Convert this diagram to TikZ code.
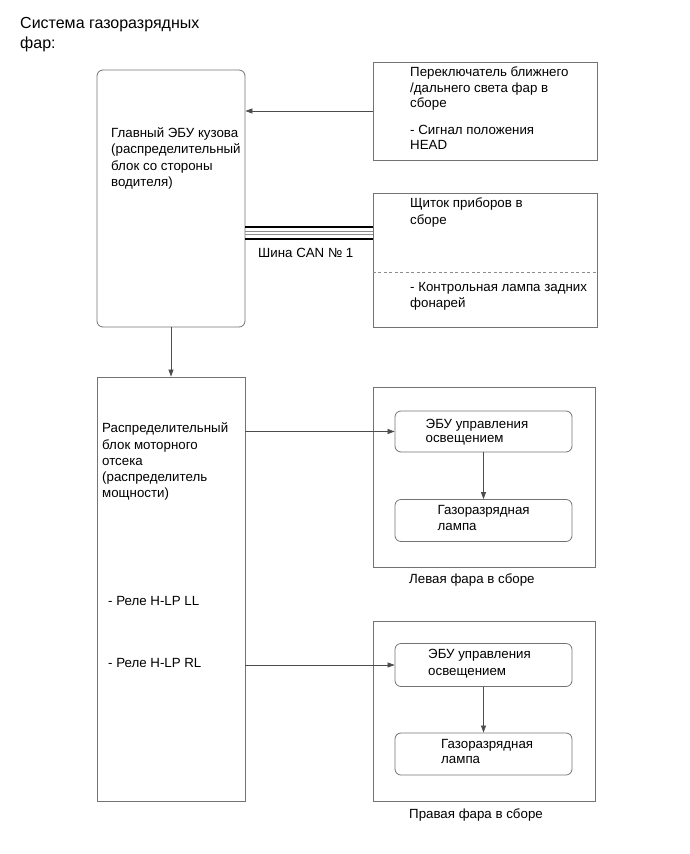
\documentclass[tikz,border=0pt]{standalone}
\usepackage{fontspec}
\setmainfont{Liberation Sans}
\usetikzlibrary{arrows.meta}
\newcommand{\fl}{\rule{0pt}{12pt}}
\begin{document}
\begin{tikzpicture}[x=1pt,y=-1pt,
  box/.style={draw=black!55,line width=0.8pt,inner sep=0pt},
  rbox/.style={box,rounded corners=6pt},
  txt/.style={anchor=north west,inner sep=0pt,align=left,font=\fontsize{13.3}{16.3}\selectfont},
  arr/.style={draw=black!70,line width=0.7pt,-{Triangle[length=7pt,width=5pt]}},
  canthick/.style={draw=black,line width=2.6pt},
  canthin/.style={draw=black!45,line width=0.6pt}]
\useasboundingbox (0,0) rectangle (690,854);
% title (first baseline 28.5)
\node[txt,font=\fontsize{16}{20}\selectfont] (title) at (20,16.5) {\fl Система газоразрядных\\фар:};
% main body ECU
\node[rbox,minimum width=148pt,minimum height=257pt] (A) at (171,198.5) {};
\node[txt] (Atxt) at (111,125.3) {\fl Главный ЭБУ кузова\\(распределительный\\блок со стороны\\водителя)};
% headlight switch
\node[box,minimum width=224pt,minimum height=98pt] (B) at (485,111) {};
\node[txt,font=\fontsize{13.3}{15.3}\selectfont] (Btxt1) at (410,64.7) {\fl Переключатель ближнего\\/дальнего света фар в\\сборе};
\node[txt,font=\fontsize{13.3}{15}\selectfont] (Btxt2) at (410,122.5) {\fl - Сигнал положения\\HEAD};
% combination meter
\node[box,minimum width=224pt,minimum height=134pt] (C) at (485,260) {};
\node[txt] (Ctxt1) at (410,195.5) {\fl Щиток приборов в\\сборе};
\node[txt,font=\fontsize{13.3}{15.3}\selectfont] (Ctxt2) at (410,279.5) {\fl - Контрольная лампа задних\\фонарей};
\draw[black!45,line width=0.6pt,dash pattern=on 3pt off 2.5pt] (C.west |- 0,272) -- (C.east |- 0,272);
% engine room relay block
\node[box,minimum width=148pt,minimum height=424pt] (D) at (171,589) {};
\node[txt] (Dtxt) at (102,420.5) {\fl Распределительный\\блок моторного\\отсека\\(распределитель\\мощности)};
\node[txt] (Dll) at (108,593) {\fl - Реле H-LP LL};
\node[txt] (Drl) at (108,655.5) {\fl - Реле H-LP RL};
% left headlight
\node[box,minimum width=222pt,minimum height=180pt] (L) at (484,477) {};
\node[rbox,minimum width=177pt,minimum height=41pt] (EL) at (483.5,431.5) {};
\node[txt,font=\fontsize{13.3}{14.5}\selectfont] (ELtxt) at (425.5,416) {\fl ЭБУ управления\\освещением};
\node[rbox,minimum width=177pt,minimum height=42pt] (LL) at (483.5,520.5) {};
\node[txt,font=\fontsize{13.3}{15.5}\selectfont] (LLtxt) at (437.5,502.5) {\fl Газоразрядная\\лампа};
\node[txt] (Llab) at (409,571) {\fl Левая фара в сборе};
% right headlight
\node[box,minimum width=222pt,minimum height=180pt] (R) at (484,711) {};
\node[rbox,minimum width=177pt,minimum height=43pt] (ER) at (483.5,665) {};
\node[txt,font=\fontsize{13.3}{16.5}\selectfont] (ERtxt) at (428,646.5) {\fl ЭБУ управления\\освещением};
\node[rbox,minimum width=177pt,minimum height=42pt] (LR) at (483.5,754) {};
\node[txt,font=\fontsize{13.3}{15}\selectfont] (LRtxt) at (441,736.5) {\fl Газоразрядная\\лампа};
\node[txt] (Rlab) at (409,806) {\fl Правая фара в сборе};
% connectors
\draw[arr] (B.west) -- (B.west -| A.east);
\coordinate (can) at (0,233);
\draw[canthick] ([yshift=-6pt]can -| A.east) -- ([yshift=-6pt]can -| C.west);
\draw[canthin] ([yshift=-1.5pt]can -| A.east) -- ([yshift=-1.5pt]can -| C.west);
\draw[canthin] ([yshift=1.5pt]can -| A.east) -- ([yshift=1.5pt]can -| C.west);
\draw[canthick] ([yshift=6pt]can -| A.east) -- ([yshift=6pt]can -| C.west);
\node[txt] (cantxt) at (258,245.5) {\fl Шина CAN № 1};
\draw[arr] (A.south) -- (D.north);
\draw[arr] (EL.west -| D.east) -- (EL.west);
\draw[arr] (ER.west -| D.east) -- (ER.west);
\draw[arr] (EL.south) -- (LL.north);
\draw[arr] (ER.south) -- (LR.north);
\end{tikzpicture}
\end{document}
